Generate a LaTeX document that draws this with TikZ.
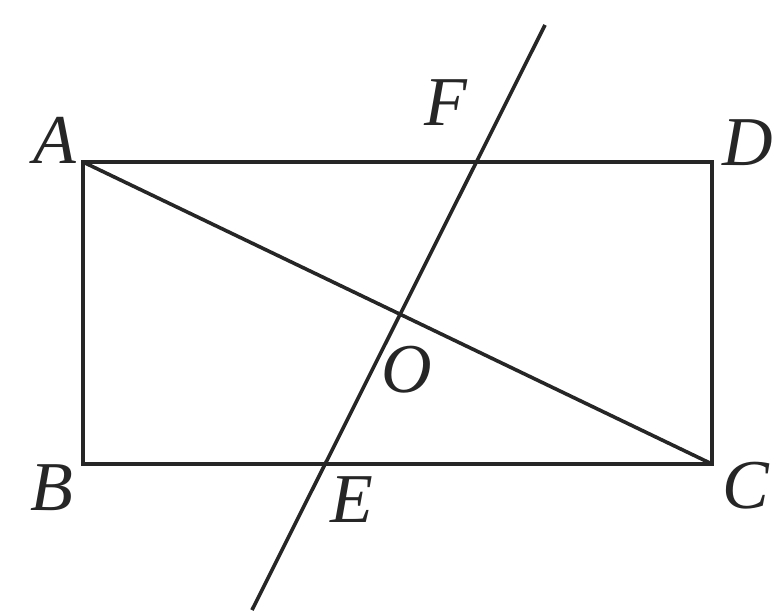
\documentclass[tikz,border=0pt]{standalone}
\usepackage{fontspec}
\setmainfont{Liberation Serif}
\begin{document}
\begin{tikzpicture}[x=1pt,y=-1pt,
  seg/.style={line width=3.6pt, black!85},
  lab/.style={font=\fontsize{70}{72}\selectfont\itshape, inner sep=0pt, text=black!85}]
\useasboundingbox (0,0) rectangle (783,610);
\coordinate (A) at (83,162);
\coordinate (D) at (712,162);
\coordinate (B) at (83,464);
\coordinate (C) at (712,464);
\coordinate (P) at (252,610);
\coordinate (Q) at (545,25);
\draw[seg, line join=miter] (A) -- (D) -- (C) -- (B) -- cycle;
\draw[seg] (A) -- (C);
\draw[seg] (P) -- (Q);
\node[lab] (lA) at (55,140) {A};
\node[lab] (lD) at (748,143) {D};
\node[lab] (lB) at (52,488) {B};
\node[lab] (lC) at (746,486) {C};
\node[lab] (lF) at (446,103) {F};
\node[lab] (lE) at (352,500) {E};
\node[lab] (lO) at (407,370) {O};
\end{tikzpicture}
\end{document}
